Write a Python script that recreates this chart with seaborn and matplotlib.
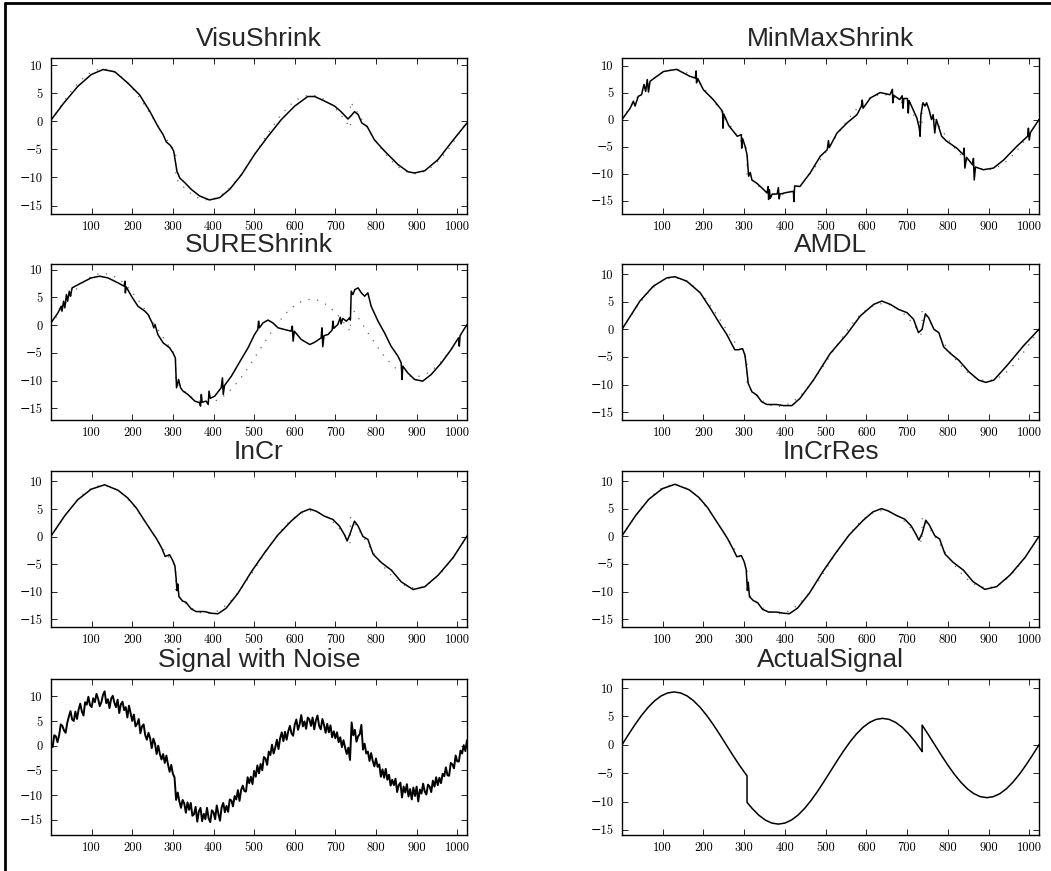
import numpy as np
import matplotlib
matplotlib.use("Agg")
import matplotlib.pyplot as plt
import seaborn as sns
from matplotlib.lines import Line2D
from matplotlib.ticker import ScalarFormatter

# ---------------- data ----------------
TITLES = ["VisuShrink", "MinMaxShrink", "SUREShrink", "AMDL",
          "InCr", "InCrRes", "Signal with Noise", "ActualSignal"]
XTICKS = [100, 200, 300, 400, 500, 600, 700, 800, 900, 1000]
YTICKS = [-15, -10, -5, 0, 5, 10]

ACT_X = [0, 16, 32, 48, 64, 80, 96, 112, 128, 144, 160, 176, 192, 208, 224, 240, 256, 272, 288, 304,
         307, 307,
         320, 336, 352, 368, 384, 400, 416, 432, 448, 464, 480, 496, 512, 528, 544, 560, 576, 592,
         608, 624, 640, 656, 672, 688, 704, 720, 736,
         737, 737,
         752, 768, 784, 800, 816, 832, 848, 864, 880, 896, 912, 928, 944, 960, 976, 992, 1008, 1024]
ACT_Y = [0.00, 1.82, 3.57, 5.18, 6.59, 7.75, 8.61, 9.14, 9.32, 9.14, 8.61, 7.75, 6.59, 5.18, 3.57, 1.82,
         0.00, -1.82, -3.57, -5.18,
         -5.48, -10.14,
         -11.25, -12.41, -13.27, -13.80, -13.98, -13.80, -13.27, -12.41, -11.25, -9.84, -8.23, -6.48,
         -4.66, -2.84, -1.09, 0.52, 1.93, 3.09, 3.95, 4.48, 4.66, 4.48, 3.95, 3.09, 1.93, 0.52, -1.09,
         -1.19, 3.47,
         1.82, 0.00, -1.82, -3.57, -5.18, -6.59, -7.75, -8.61, -9.14, -9.32, -9.14, -8.61, -7.75,
         -6.59, -5.18, -3.57, -1.82, 0.00]

VISU_PTS = [(0, 0.2), (30, 3.1), (66, 6.2), (99, 8.3), (128, 9.2), (157, 8.8), (189, 6.8), (218, 4.7),
            (243, 1.8), (263, -0.9), (276, -2.4), (284, -3.7), (294, -4.3), (302, -5.3), (306, -7.1),
            (310, -8.9), (317, -10.1), (329, -10.9), (345, -12.1), (366, -13.3), (390, -14.0),
            (415, -13.6), (440, -12.1), (469, -9.5), (501, -5.9), (534, -2.7), (567, 0.3), (600, 2.7),
            (632, 4.4), (649, 4.4), (673, 3.6), (698, 2.7), (714, 1.7), (731, 0.4), (739, 1.0),
            (747, 1.7), (756, 1.2), (765, -0.3), (778, -0.9), (796, -3.3), (821, -5.3), (854, -7.7),
            (879, -9.0), (895, -9.2), (920, -8.8), (953, -6.8), (985, -3.8), (1024, -0.3)]

MINMAX_PTS = [(0, 0.0), (20, 2.1), (28, 3.4), (32, 2.5), (40, 4.3), (48, 4.6), (54, 6.5), (58, 5.2),
              (62, 7.4), (65, 5.1), (69, 7.1), (102, 8.9), (134, 9.3), (167, 8.0), (180, 7.7),
              (182, 9.0), (183, 6.8), (186, 7.6), (200, 5.5), (224, 3.7), (241, 2.1), (247, 1.5),
              (248, -1.6), (250, 1.0), (262, -1.1), (283, -3.1), (293, -2.8), (294, -5.3), (296, -3.5),
              (302, -4.9), (307, -6.5), (311, -10.5), (315, -9.8), (319, -11.2), (331, -11.8),
              (344, -12.7), (356, -13.6), (359, -12.4), (360, -14.8), (362, -13.0), (364, -14.6),
              (369, -13.8), (381, -13.8), (384, -12.6), (386, -14.7), (388, -13.8), (405, -13.5),
              (421, -13.3), (422, -15.2), (424, -12.3), (437, -12.4), (462, -9.9), (487, -6.8),
              (504, -5.6), (507, -3.9), (509, -5.2), (528, -2.5), (553, -0.6), (577, 0.9), (588, 2.5),
              (590, 3.6), (592, 2.1), (610, 4.0), (634, 5.0), (658, 4.6), (664, 5.6), (665, 3.1),
              (667, 4.5), (682, 3.7), (688, 4.4), (690, 2.1), (692, 3.9), (701, 3.9), (703, 1.2),
              (705, 3.5), (715, 1.8), (724, 0.3), (730, -1.6), (732, -3.1), (734, 0.9), (739, 3.1),
              (744, 2.5), (748, 3.1), (754, 1.8), (760, 0.0), (764, 0.9), (768, -2.5), (772, 0.0),
              (785, -3.1), (797, -4.0), (822, -5.3), (838, -6.5), (840, -5.3), (842, -9.0),
              (846, -7.0), (861, -8.4), (863, -7.2), (865, -11.2), (868, -8.8), (887, -9.3),
              (912, -9.0), (937, -7.5), (969, -5.0), (996, -3.1), (998, -1.6), (1000, -3.8),
              (1003, -2.4), (1024, 0.0)]

SURE_PTS = [(0, 0.4), (17, 2.2), (25, 3.4), (27, 2.5), (31, 4.3), (34, 3.1), (38, 5.5), (41, 4.3),
            (45, 6.1), (48, 5.2), (52, 6.7), (75, 7.6), (99, 8.5), (120, 8.8), (140, 8.5), (165, 7.6),
            (180, 7.0), (182, 7.9), (183, 5.8), (185, 6.9), (198, 5.2), (214, 3.4), (231, 2.5),
            (239, 1.9), (249, 0.4), (253, -0.5), (256, 0.1), (263, -1.7), (276, -3.2), (292, -4.1),
            (300, -5.0), (306, -5.9), (309, -11.3), (314, -9.8), (319, -11.3), (325, -11.9),
            (337, -12.5), (354, -13.7), (366, -14.0), (368, -14.6), (370, -12.5), (372, -13.9),
            (382, -13.7), (387, -14.3), (389, -11.9), (392, -13.2), (403, -12.8), (419, -11.3),
            (422, -9.5), (424, -12.5), (427, -10.9), (444, -9.2), (468, -6.2), (485, -4.1),
            (501, -1.7), (509, -0.8), (511, 0.7), (513, -0.5), (522, 0.4), (534, 0.9), (546, 0.4),
            (559, -0.5), (575, -0.8), (591, -1.1), (594, -0.2), (596, -2.9), (599, -1.1),
            (616, -2.6), (637, -3.5), (649, -3.1), (665, -2.3), (667, -0.5), (669, -3.9),
            (672, -1.9), (682, -1.7), (692, -0.9), (694, 0.7), (696, -0.6), (706, 0.1), (712, 1.4),
            (714, 0.2), (718, 1.2), (727, 0.7), (735, 1.3), (737, 0.9), (739, 6.1), (743, 5.5),
            (748, 6.4), (756, 6.7), (764, 5.8), (772, 5.2), (780, 5.8), (788, 3.4), (805, 0.7),
            (821, -1.4), (837, -3.8), (854, -5.6), (862, -6.8), (864, -9.8), (866, -7.4),
            (878, -8.6), (895, -9.8), (915, -10.1), (936, -8.9), (961, -6.8), (985, -4.4),
            (1003, -2.3), (1005, -3.8), (1007, -1.9), (1024, 0.1)]

AMDL_PTS = [(0, 0.0), (44, 5.1), (77, 7.8), (110, 9.3), (130, 9.5), (159, 8.7), (192, 6.6), (216, 3.9),
            (241, 0.9), (257, -0.9), (269, -2.6), (277, -3.7), (286, -3.7), (296, -3.5), (302, -4.7),
            (306, -7.1), (310, -9.8), (319, -11.3), (331, -11.9), (343, -13.1), (356, -13.6),
            (380, -13.6), (397, -13.8), (417, -13.8), (437, -12.5), (470, -9.2), (511, -4.4),
            (552, -0.9), (585, 2.4), (618, 4.5), (638, 5.1), (659, 4.5), (679, 3.6), (700, 3.0),
            (716, 1.8), (728, -0.6), (737, 0.0), (745, 2.8), (753, 2.1), (766, 0.0), (778, -0.6),
            (790, -3.2), (807, -4.4), (827, -5.6), (852, -7.7), (876, -9.2), (893, -9.6),
            (913, -9.2), (946, -6.5), (987, -2.9), (1024, 0.0)]

INCR_PTS = [(0, 0.1), (34, 3.8), (66, 6.7), (99, 8.6), (132, 9.4), (165, 8.4), (189, 7.0), (210, 5.2),
            (231, 2.8), (247, 1.0), (259, -0.3), (272, -2.0), (281, -3.6), (292, -3.3), (300, -4.4),
            (305, -5.3), (308, -7.6), (310, -9.8), (312, -8.6), (315, -10.9), (324, -11.7),
            (332, -11.9), (345, -13.1), (357, -13.6), (378, -13.6), (394, -13.9), (411, -14.0),
            (431, -13.0), (460, -10.3), (493, -6.4), (526, -2.9), (558, 0.25), (591, 2.8),
            (616, 4.4), (637, 5.0), (653, 4.6), (673, 3.7), (694, 3.1), (710, 1.9), (723, 0.25),
            (729, -0.8), (737, 0.7), (747, 2.8), (756, 1.9), (768, 0.0), (780, -0.5), (793, -3.2),
            (813, -4.7), (838, -6.1), (862, -8.2), (891, -9.6), (920, -9.1), (953, -7.0),
            (990, -3.8), (1024, 0.1)]

INCRRES_PTS = [(0, 0.1), (34, 3.8), (66, 6.7), (99, 8.6), (130, 9.4), (165, 8.4), (189, 7.0),
               (210, 5.2), (231, 2.8), (247, 1.0), (259, -0.4), (272, -2.2), (282, -3.7), (293, -3.5),
               (300, -4.6), (305, -6.0), (308, -9.8), (310, -8.3), (313, -10.9), (322, -11.6),
               (333, -12.0), (345, -13.2), (360, -13.7), (380, -13.7), (396, -13.9), (411, -14.0),
               (431, -13.0), (460, -10.3), (493, -6.4), (526, -2.9), (558, 0.25), (591, 2.8),
               (616, 4.4), (637, 5.0), (653, 4.6), (673, 3.8), (694, 3.1), (710, 1.9), (723, 0.2),
               (729, -0.7), (737, 0.5), (746, 2.9), (755, 2.0), (768, 0.1), (780, -0.5), (793, -3.2),
               (813, -4.7), (838, -6.1), (862, -8.2), (891, -9.6), (920, -9.1), (953, -7.0),
               (990, -3.8), (1024, 0.0)]

NOISY_X = list(range(0, 1025, 4))
NOISY_Y = [
    0.3, -0.3, 2.1, 1.9, 0.7, 2.1, 4.3, 4.0, 3.1, 2.6, 4.6, 5.9, 7.0, 5.3, 5.0, 6.9,
    5.4, 7.3, 8.5, 6.9, 6.1, 8.8, 8.3, 9.9, 8.2, 7.8, 9.6, 8.8, 10.5, 9.5, 8.0, 8.8,
    10.3, 11.0, 8.6, 9.4, 7.6, 9.5, 10.1, 8.7, 7.8, 9.3, 6.6, 8.4, 8.9, 7.2, 7.8, 5.7,
    8.1, 6.5, 5.0, 6.3, 3.9, 4.4, 5.4, 2.5, 3.9, 4.3, 2.1, 1.2, 2.6, 1.5, -0.5, 1.4,
    0.4, -1.7, 0.0, -1.7, -2.8, -1.7, -3.5, -2.0, -3.8, -5.3, -3.9, -5.7, -6.4,
    -11.0, -9.5, -11.3, -12.6, -11.0, -11.7, -13.6, -11.5, -13.0, -11.6, -14.2, -13.9, -12.4,
    -15.4, -13.3, -12.6, -15.3, -13.8, -14.9,
    -12.6, -14.7, -15.5, -13.1, -13.5, -14.9, -12.1, -13.8, -15.2, -12.5, -11.6, -13.5, -12.2,
    -13.4, -10.9, -11.1,
    -12.3, -10.2, -10.9, -9.0, -11.2, -9.0, -8.1, -9.2, -9.3, -6.4, -7.6, -6.3, -7.8, -5.1, -6.3, -4.0,
    -5.6, -3.7, -5.0, -2.3, -2.6, -3.9, -1.2, -1.9, 0.2, -1.6, -0.4, 1.2, -0.7, 1.5, 2.7, 0.9,
    2.8, 1.2, 2.9, 4.0, 2.5, 2.0, 4.3, 5.3, 3.2, 4.3, 6.2, 3.9, 4.9, 3.4, 5.7, 5.3,
    4.0, 5.7, 3.3, 5.1, 6.1, 4.0, 3.3, 5.4, 4.2, 2.6, 4.4, 2.7, 4.1, 1.7, 2.9, 1.5,
    2.7, 0.7, 1.7, -0.3, 1.1, -0.4, -1.7, -0.4, -2.9,
    4.7, 2.1, 3.2, 0.8, 1.9, 2.3, 4.2, -0.8,
    0.4, -1.6, -1.2, -3.1, -1.5, -3.1, -4.2, -2.6, -4.3, -3.8, -6.3, -4.8, -6.5, -4.7, -6.9,
    -5.9, -8.1, -6.9, -8.0, -6.7, -9.4, -8.0, -7.5, -10.5, -8.3, -9.5, -7.8, -10.3, -8.8, -10.9, -8.5,
    -10.2, -8.3, -11.3, -8.9, -9.7, -7.7, -9.3, -9.9, -7.9, -8.3, -9.4, -7.1, -8.3, -6.4, -8.0, -6.5,
    -7.6, -5.7, -6.2, -4.4, -6.0, -6.1, -3.5, -3.8, -4.6, -2.0, -3.2, -3.2, -1.0, -1.6, 0.1, -1.1,
    1.1]

# ---------------- layout (pixels of the 1051x871 reference) ----------------
W, H = 1051, 871
COL_LEFT = [51, 622]
COL_W = [416, 417]
ROW_TOP = [58, 264, 471, 679]
ROW_H = 156
YLIMS = [(-16.5, 11.25), (-17.5, 11.4), (-17.1, 11.0), (-16.4, 11.8),
         (-16.4, 11.9), (-16.4, 11.8), (-18.1, 13.5), (-15.9, 11.6)]

sns.set_theme(style="ticks")
plt.rcParams.update({
    "font.family": ["cmr10", "DejaVu Serif"],
    "axes.formatter.use_mathtext": False,
    "axes.unicode_minus": True,
    "axes.edgecolor": "black",
    "axes.linewidth": 1.0,
    "figure.facecolor": "white",
    "axes.facecolor": "white",
})

fig = plt.figure(figsize=(W / 100, H / 100), dpi=100)


def split(pts):
    xs = [p[0] for p in pts]
    ys = [p[1] for p in pts]
    return xs, ys


estimates = [VISU_PTS, MINMAX_PTS, SURE_PTS, AMDL_PTS, INCR_PTS, INCRRES_PTS]

for i, title in enumerate(TITLES):
    row, col = divmod(i, 2)
    rect = [COL_LEFT[col] / W, 1 - (ROW_TOP[row] + ROW_H) / H, COL_W[col] / W, ROW_H / H]
    ax = fig.add_axes(rect)
    if i < 6:
        sns.lineplot(x=ACT_X, y=ACT_Y, ax=ax, color="0.4", linewidth=0.9,
                     linestyle=(0, (1, 6)), sort=False, estimator=None)
        xs, ys = split(estimates[i])
        sns.lineplot(x=xs, y=ys, ax=ax, color="black", linewidth=1.1, sort=False, estimator=None)
    elif i == 6:
        sns.lineplot(x=NOISY_X, y=NOISY_Y, ax=ax, color="black", linewidth=1.4,
                     sort=False, estimator=None)
    else:
        sns.lineplot(x=ACT_X, y=ACT_Y, ax=ax, color="black", linewidth=1.1,
                     sort=False, estimator=None)
    ax.set_xlim(0, 1024)
    ax.set_ylim(*YLIMS[i])
    ax.set_xticks(XTICKS)
    ax.set_yticks(YTICKS)
    ax.xaxis.set_major_formatter(ScalarFormatter(useMathText=False))
    ax.yaxis.set_major_formatter(ScalarFormatter(useMathText=False))
    ax.tick_params(direction="in", top=True, right=True, length=4, width=0.6,
                   labelsize=9, colors="black")
    ax.tick_params(axis="x", pad=5)
    ax.tick_params(axis="y", pad=6)
    for sp in ax.spines.values():
        sp.set_visible(True)
        sp.set_linewidth(1.0)
        sp.set_color("black")
    ax.set_xlabel("")
    ax.set_ylabel("")
    ax.set_title(title, fontsize=19, fontfamily=["Liberation Sans", "DejaVu Sans"], pad=9)

# outer frame (top and left edges visible in the reference)
fig.add_artist(Line2D([5 / W, 5 / W], [0, 1 - 3 / H], transform=fig.transFigure,
                      color="black", linewidth=2.0))
fig.add_artist(Line2D([5 / W, 1], [1 - 3 / H, 1 - 3 / H], transform=fig.transFigure,
                      color="black", linewidth=2.0))

fig.savefig("out.png", dpi=100)
